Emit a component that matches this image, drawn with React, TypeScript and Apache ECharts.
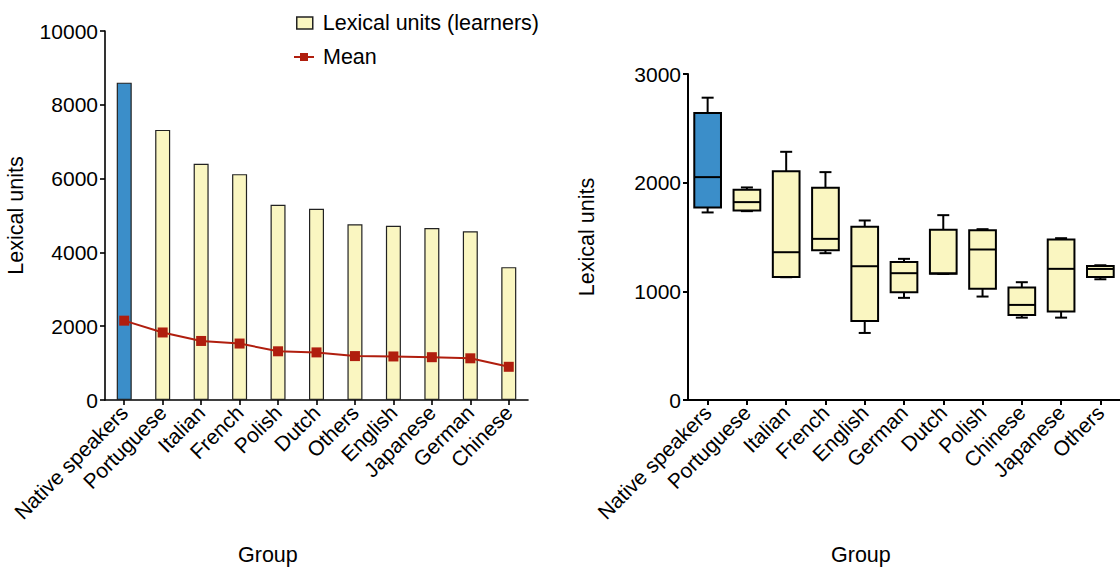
import React, { useEffect, useRef } from "react";
import * as echarts from "echarts";

// ---- Left chart data ----
const barCategories = ["Native speakers", "Portuguese", "Italian", "French", "Polish", "Dutch", "Others", "English", "Japanese", "German", "Chinese"];
const lexicalUnits = [8600, 7320, 6400, 6120, 5290, 5180, 4760, 4720, 4660, 4570, 3600];
const meanValues = [2150, 1830, 1600, 1530, 1320, 1290, 1190, 1180, 1160, 1130, 900];

// ---- Right chart data ----
const boxCategories = ["Native speakers", "Portuguese", "Italian", "French", "English", "German", "Dutch", "Polish", "Chinese", "Japanese", "Others"];
const boxMin = [1726, 1738, 1130, 1351, 617, 940, 1160, 952, 758, 758, 1111];
const boxQ1 = [1772, 1745, 1133, 1379, 728, 992, 1162, 1023, 783, 814, 1133];
const boxMedian = [2051, 1821, 1360, 1483, 1231, 1167, 1166, 1385, 875, 1207, 1206];
const boxQ3 = [2641, 1934, 2106, 1953, 1594, 1271, 1566, 1563, 1035, 1477, 1234];
const boxMax = [2782, 1956, 2284, 2097, 1652, 1299, 1701, 1572, 1084, 1489, 1240];

const BLUE = "#3b8ec9";
const YELLOW = "#faf6c1";
const RED = "#b01e0e";
const FONT = "'Liberation Sans', Arial, sans-serif";
const TICK_FS = 21;
const NAME_FS = 21.5;

export default function App() {
  const ref = useRef<HTMLDivElement>(null);

  useEffect(() => {
    document.body.style.margin = "0";
    if (!ref.current) return;
    const chart = echarts.init(ref.current, null, { renderer: "svg" });

    const boxData = boxCategories.map((_, i) => [i, boxMin[i], boxQ1[i], boxMedian[i], boxQ3[i], boxMax[i]]);

    const axisLine = (w: number) => ({ show: true, lineStyle: { color: "#000", width: w } });
    const plain = (v: number) => String(v);

    chart.setOption({
      animation: false,
      backgroundColor: "#fff",
      textStyle: { fontFamily: FONT, color: "#000" },
      legend: [
        {
          left: 296,
          top: 12,
          padding: 0,
          itemWidth: 16,
          itemHeight: 12,
          textStyle: { fontSize: NAME_FS, color: "#000", fontFamily: FONT, padding: [0, 0, 0, 5] },
          data: [{ name: "Lexical units (learners)", icon: "rect", itemStyle: { color: YELLOW, borderColor: "#222", borderWidth: 1.5 } }],
        },
        {
          left: 293,
          top: 46,
          padding: 0,
          itemWidth: 20,
          itemHeight: 10,
          textStyle: { fontSize: NAME_FS, color: "#000", fontFamily: FONT, padding: [0, 0, 0, 4] },
          data: [{ name: "Mean" }],
        },
      ],
      grid: [
        { left: 105, top: 31, width: 423, height: 369, containLabel: false },
        { left: 688, top: 74, width: 441, height: 326, containLabel: false },
      ],
      xAxis: [
        {
          gridIndex: 0,
          type: "category",
          data: barCategories,
          axisLine: axisLine(1.6),
          axisTick: { show: true, alignWithLabel: true, length: 5, lineStyle: { color: "#000", width: 1.6 } },
          axisLabel: { rotate: 45, fontSize: TICK_FS, color: "#000", fontFamily: FONT, margin: 9, interval: 0 },
        },
        {
          gridIndex: 1,
          type: "category",
          data: boxCategories,
          axisLine: axisLine(2),
          axisTick: { show: true, alignWithLabel: true, length: 5, lineStyle: { color: "#000", width: 2 } },
          axisLabel: { rotate: 45, fontSize: TICK_FS, color: "#000", fontFamily: FONT, margin: 9, interval: 0 },
        },
      ],
      yAxis: [
        {
          gridIndex: 0,
          type: "value",
          min: 0,
          max: 10000,
          interval: 2000,
          name: "Lexical units",
          nameLocation: "middle",
          nameGap: 78,
          nameTextStyle: { fontSize: NAME_FS, color: "#000", fontFamily: FONT },
          axisLine: axisLine(1.6),
          axisTick: { show: true, length: 5, lineStyle: { color: "#000", width: 1.6 } },
          axisLabel: { fontSize: TICK_FS, color: "#000", fontFamily: FONT, margin: 7, formatter: plain },
          splitLine: { show: false },
        },
        {
          gridIndex: 1,
          type: "value",
          min: 0,
          max: 3000,
          interval: 1000,
          name: "Lexical units",
          nameLocation: "middle",
          nameGap: 90,
          nameTextStyle: { fontSize: NAME_FS, color: "#000", fontFamily: FONT },
          axisLine: axisLine(2),
          axisTick: { show: true, length: 5, lineStyle: { color: "#000", width: 2 } },
          axisLabel: { fontSize: TICK_FS, color: "#000", fontFamily: FONT, margin: 7, formatter: plain },
          splitLine: { show: false },
        },
      ],
      graphic: [
        { type: "text", left: 238, top: 544, style: { text: "Group", fontSize: NAME_FS, fontFamily: FONT, fill: "#000" } },
        { type: "text", left: 831, top: 544, style: { text: "Group", fontSize: NAME_FS, fontFamily: FONT, fill: "#000" } },
      ],
      series: [
        {
          name: "Lexical units (learners)",
          type: "bar",
          xAxisIndex: 0,
          yAxisIndex: 0,
          barWidth: 15,
          itemStyle: { color: YELLOW, borderColor: "#222", borderWidth: 1.2 },
          data: lexicalUnits.map((v, i) => (i === 0 ? { value: v, itemStyle: { color: BLUE } } : v)),
          z: 2,
        },
        {
          name: "Mean",
          type: "line",
          xAxisIndex: 0,
          yAxisIndex: 0,
          symbol: "rect",
          symbolSize: 10,
          lineStyle: { color: RED, width: 2 },
          itemStyle: { color: RED },
          data: meanValues,
          z: 3,
        },
        {
          name: "Box",
          type: "custom",
          xAxisIndex: 1,
          yAxisIndex: 1,
          encode: { x: 0, y: [1, 2, 3, 4, 5] },
          data: boxData,
          renderItem: (params: any, api: any) => {
            const i = api.value(0);
            const pMin = api.coord([i, api.value(1)]);
            const pQ1 = api.coord([i, api.value(2)]);
            const pMed = api.coord([i, api.value(3)]);
            const pQ3 = api.coord([i, api.value(4)]);
            const pMax = api.coord([i, api.value(5)]);
            const bw = api.size([1, 0])[0] * 0.68;
            const cw = 12;
            const x = pMed[0];
            const st = { stroke: "#000", lineWidth: 2, fill: null };
            return {
              type: "group",
              children: [
                { type: "line", shape: { x1: x, y1: pMax[1], x2: x, y2: pQ3[1] }, style: st },
                { type: "line", shape: { x1: x - cw / 2, y1: pMax[1], x2: x + cw / 2, y2: pMax[1] }, style: st },
                { type: "line", shape: { x1: x, y1: pMin[1], x2: x, y2: pQ1[1] }, style: st },
                { type: "line", shape: { x1: x - cw / 2, y1: pMin[1], x2: x + cw / 2, y2: pMin[1] }, style: st },
                {
                  type: "rect",
                  shape: { x: x - bw / 2, y: pQ3[1], width: bw, height: pQ1[1] - pQ3[1] },
                  style: { fill: params.dataIndex === 0 ? BLUE : YELLOW, stroke: "#000", lineWidth: 2 },
                },
                { type: "line", shape: { x1: x - bw / 2, y1: pMed[1], x2: x + bw / 2, y2: pMed[1] }, style: st },
              ],
            };
          },
        },
      ],
    });

    return () => chart.dispose();
  }, []);

  return <div ref={ref} style={{ width: 1120, height: 569 }} />;
}
